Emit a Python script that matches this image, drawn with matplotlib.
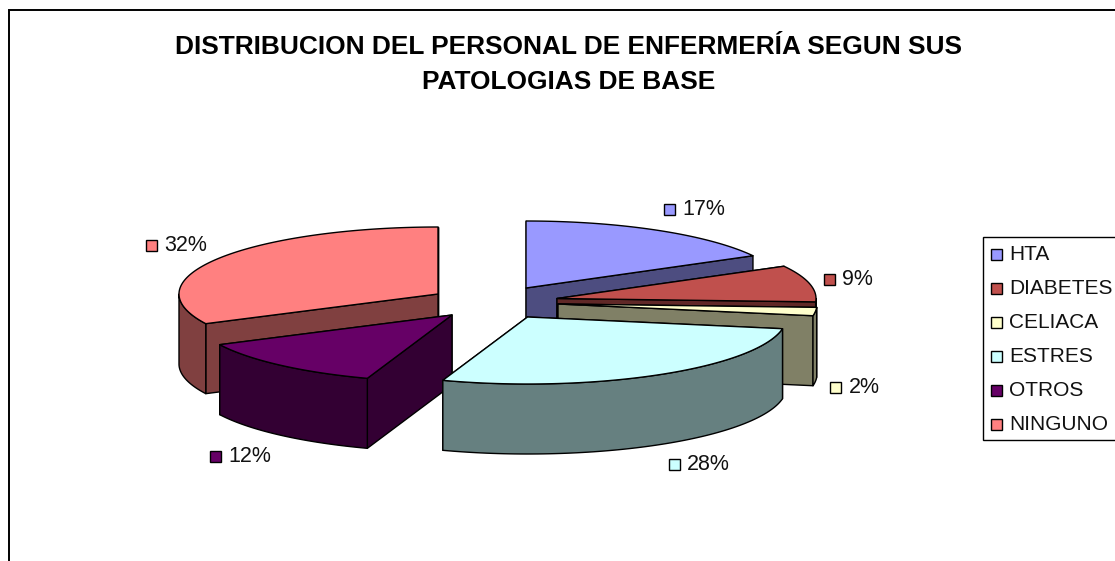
import numpy as np
import matplotlib
matplotlib.use("Agg")
import matplotlib.pyplot as plt
from matplotlib.patches import Polygon, Rectangle
from matplotlib.colors import to_rgb

plt.rcParams['font.family'] = ['Liberation Sans', 'DejaVu Sans']

title = "DISTRIBUCION DEL PERSONAL DE ENFERMERÍA SEGUN SUS\nPATOLOGIAS DE BASE"
categories = ["HTA", "DIABETES", "CELIACA", "ESTRES", "OTROS", "NINGUNO"]
values = [17.0, 8.8, 2.0, 27.5, 12.4, 32.3]
colors = ["#9999FF", "#C0504D", "#FFFFCC", "#CCFFFF", "#660066", "#FF8080"]

# exploded slice centres, in pixels
centers = [(526, 288), (557, 298.5), (558, 304), (527.5, 317), (452, 315), (438, 294)]
label_pos = [(669, 209), (829, 279), (835.5, 387), (674, 464), (215, 456), (151, 245)]
draw_order = [0, 5, 1, 2, 4, 3]

RX, RY, DEPTH = 259, 67, 70

fig = plt.figure(figsize=(11.15, 5.61), dpi=100)
ax = fig.add_axes([0, 0, 1, 1])
ax.set_xlim(0, 1115)
ax.set_ylim(561, 0)
ax.axis("off")

# chart frame, cut off on the right and at the bottom
ax.plot([8.5, 8.5, 1120], [565, 9.5, 9.5], color="black", lw=1.4, solid_joinstyle="miter")

ax.text(568.5, 64.5, title, ha="center", va="center", fontsize=18.9, fontweight="bold",
        linespacing=1.6)


def point(c, deg, drop=0):
    t = np.radians(deg)
    return c[0] + RX * np.sin(t), c[1] - RY * np.cos(t) + drop


cum = np.cumsum([0] + values) / sum(values) * 360

for i in draw_order:
    c = centers[i]
    a0, a1 = cum[i], cum[i + 1]
    top = np.array(to_rgb(colors[i]))
    side = top * 0.5
    style = dict(edgecolor="black", lw=1.0, joinstyle="round")

    # radial walls, rear one first
    for a in sorted([a0, a1], key=lambda d: point(c, d)[1]):
        p = point(c, a)
        quad = [c, p, (p[0], p[1] + DEPTH), (c[0], c[1] + DEPTH)]
        ax.add_patch(Polygon(quad, facecolor=side, **style))

    # outer rim, only the part facing the viewer
    r0, r1 = max(a0, 90), min(a1, 270)
    if r1 > r0:
        t = np.linspace(r0, r1, 80)
        upper = [point(c, d) for d in t]
        lower = [point(c, d, DEPTH) for d in t[::-1]]
        ax.add_patch(Polygon(upper + lower, facecolor=side, **style))

    t = np.linspace(a0, a1, 120)
    ax.add_patch(Polygon([c] + [point(c, d) for d in t], facecolor=top, **style))

# data labels
for i, (x, y) in enumerate(label_pos):
    ax.add_patch(Rectangle((x - 5.5, y - 5.5), 11, 11, facecolor=colors[i],
                           edgecolor="black", lw=1.0))
    ax.text(x + 13, y, f"{values[i]:.0f}%", ha="left", va="center", fontsize=15.5, color="#111111")

# legend box
ax.add_patch(Rectangle((982.5, 236.5), 160, 203, facecolor="white", edgecolor="black", lw=1.0))
legend_y = [254, 288, 322, 356, 390, 424]
for name, col, y in zip(categories, colors, legend_y):
    ax.add_patch(Rectangle((990.5, y - 5.5), 11, 11, facecolor=col, edgecolor="black", lw=1.0))
    ax.text(1009, y, name, ha="left", va="center", fontsize=15, color="#111111")

fig.savefig("out.png", dpi=100)
